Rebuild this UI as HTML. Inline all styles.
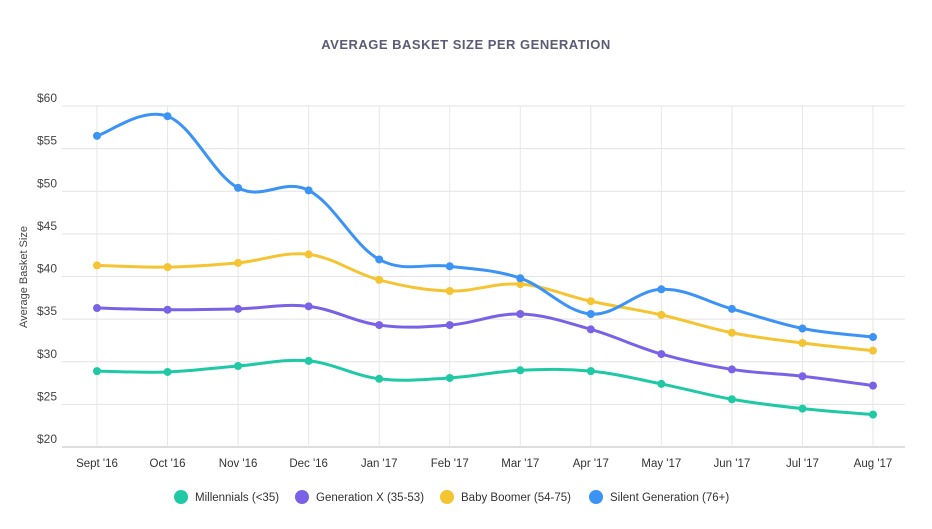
<!DOCTYPE html>
<html><head><meta charset="utf-8"><style>
body{margin:0;background:#fff;font-family:"Liberation Sans",sans-serif}
svg text{font-family:"Liberation Sans",sans-serif}
</style></head><body>
<svg width="932" height="524">
<text x="466" y="49" text-anchor="middle" font-size="13" font-weight="bold" fill="#5b5b78" letter-spacing="0.5">AVERAGE BASKET SIZE PER GENERATION</text>
<text transform="translate(27,277) rotate(-90)" text-anchor="middle" font-size="11" fill="#444">Average Basket Size</text>
<g id="grid"></g><g id="series"></g><g id="legend"></g>
</svg>
<script>
const categories=["Sept '16","Oct '16","Nov '16","Dec '16","Jan '17","Feb '17","Mar '17","Apr '17","May '17","Jun '17","Jul '17","Aug '17"];
const yTicks=[20,25,30,35,40,45,50,55,60];
const seriesNames=["Millennials (<35)","Generation X (35-53)","Baby Boomer (54-75)","Silent Generation (76+)"];
const millennials=[28.9,28.8,29.5,30.1,28.0,28.1,29.0,28.9,27.4,25.6,24.5,23.8];
const genX=[36.3,36.1,36.2,36.5,34.3,34.3,35.6,33.8,30.9,29.1,28.3,27.2];
const boomer=[41.3,41.1,41.6,42.6,39.6,38.3,39.1,37.1,35.5,33.4,32.2,31.3];
const silent=[56.5,58.8,50.4,50.1,42.0,41.2,39.8,35.6,38.5,36.2,33.9,32.9];
const colors=["#1fc9a5","#7a62e6","#f4c433","#3a93f5"];
const NS="http://www.w3.org/2000/svg";
const x=i=>97+i*(776/(categories.length-1));
const y=v=>447-(v-20)*(341/40);
function mk(t,a,p){const e=document.createElementNS(NS,t);for(const k in a)e.setAttribute(k,a[k]);p.appendChild(e);return e;}
const grid=document.getElementById('grid');
yTicks.forEach(t=>{
 const l=mk('line',{x1:62,x2:905,y1:y(t),y2:y(t),stroke:t===20?'#bbb':'#e3e3e3','stroke-width':1},grid);
 
 
 const tx=mk('text',{x:57,y:y(t)-4,'text-anchor':'end','font-size':12,fill:'#444'},grid);tx.textContent='$'+t;
 
 
});
categories.forEach((c,i)=>{
 const l=mk('line',{x1:x(i),x2:x(i),y1:106,y2:447,stroke:'#e6e6e6','stroke-width':1},grid);
 
 
 const tx=mk('text',{x:x(i),y:467,'text-anchor':'middle','font-size':11.5,fill:'#333'},grid);tx.textContent=c;
 
 
});
const sg=document.getElementById('series');
[millennials,genX,boomer,silent].forEach((arr,s)=>{
 const pts=arr.map((v,i)=>[x(i),y(v)]);
 let d='M'+pts[0][0]+','+pts[0][1];
 for(let i=0;i<pts.length-1;i++){
  const p0=pts[Math.max(0,i-1)],p1=pts[i],p2=pts[i+1],p3=pts[Math.min(pts.length-1,i+2)];
  const k=0.18;
  d+=' C'+(p1[0]+(p2[0]-p0[0])*k)+','+(p1[1]+(p2[1]-p0[1])*k)+' '+(p2[0]-(p3[0]-p1[0])*k)+','+(p2[1]-(p3[1]-p1[1])*k)+' '+p2[0]+','+p2[1];
 }
 const path=mk('path',{d:d,fill:'none',stroke:colors[s],'stroke-width':3},sg);
 
 
 pts.forEach(p=>{
  const c=mk('circle',{cx:p[0],cy:p[1],r:4,fill:colors[s]},sg);
  
  
 });
});
const lg=document.getElementById('legend');
const lx=[181,302,447,596];
seriesNames.forEach((n,i)=>{
 const c=mk('circle',{cx:lx[i],cy:497,r:7,fill:colors[i]},lg);
 
 
 const t=mk('text',{x:lx[i]+14,y:501,'font-size':11.5,fill:'#333'},lg);t.textContent=n;
 
 
});
</script>
</body></html>
